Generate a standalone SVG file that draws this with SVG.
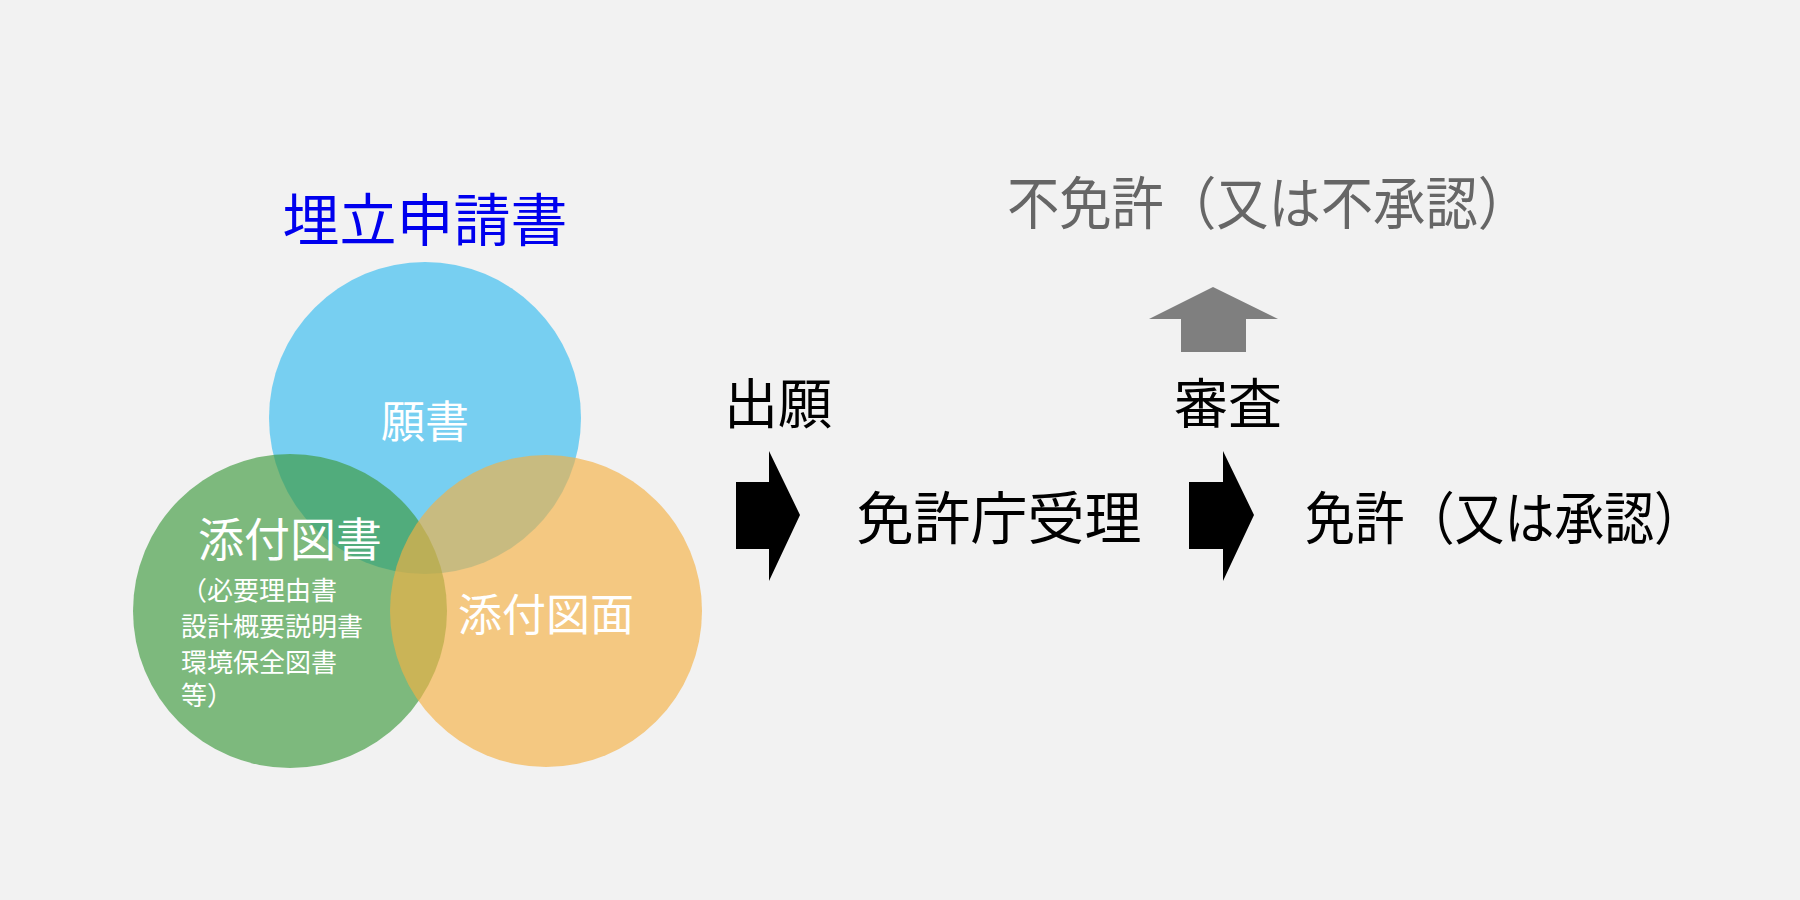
<svg xmlns="http://www.w3.org/2000/svg" width="1800" height="900" viewBox="0 0 1800 900">
<style>
text{font-family:"Noto Sans CJK JP","Noto Sans",sans-serif;}
.w{fill:#fff;}
.k{fill:#000;}
</style>
<rect width="1800" height="900" fill="#f2f2f2"/>
<g id="title"><text x="425" y="241" font-size="57" fill="#0000ee" text-anchor="middle">埋立申請書</text></g>
<g id="blue"><circle cx="425" cy="418" r="156" fill="#4dc3f0" fill-opacity="0.75"/><text class="w" x="425" y="438" font-size="44" text-anchor="middle">願書</text></g>
<g id="green"><circle cx="290" cy="611" r="157" fill="#3d9a3d" fill-opacity="0.65"/>
<text class="w" x="290" y="556" font-size="46" text-anchor="middle">添付図書</text>
<text class="w" font-size="26"><tspan x="181" y="600" textLength="156" lengthAdjust="spacingAndGlyphs">（必要理由書</tspan><tspan x="181" y="636">設計概要説明書</tspan><tspan x="181" y="672">環境保全図書</tspan><tspan x="181" y="705">等）</tspan></text></g>
<g id="orange"><circle cx="546" cy="611" r="156" fill="#f5b043" fill-opacity="0.65"/><text class="w" x="546" y="631" font-size="44" text-anchor="middle">添付図面</text></g>
<g id="connectors">
<polygon points="736,482 769,482 769,451 800,515 769,581 769,549 736,549" fill="#000"/>
<polygon points="1189,482 1223,482 1223,451 1254,515 1223,581 1223,549 1189,549" fill="#000"/>
<polygon points="1181,352 1246,352 1246,319 1278,319 1213,287 1149,319 1181,319" fill="#7f7f7f"/>
</g>
<g id="shutsugan"><text class="k" x="778" y="424" font-size="54" text-anchor="middle">出願</text></g>
<g id="juri"><text class="k" x="999" y="539" font-size="57" text-anchor="middle">免許庁受理</text></g>
<g id="shinsa"><text class="k" x="1228" y="424" font-size="54" text-anchor="middle">審査</text></g>
<g id="menkyo"><text class="k" x="1305" y="539" font-size="57" textLength="399" lengthAdjust="spacingAndGlyphs">免許（又は承認）</text></g>
<g id="fumenkyo"><text x="1007" y="224" font-size="57" fill="#666" textLength="523" lengthAdjust="spacingAndGlyphs">不免許（又は不承認）</text></g>
</svg>
